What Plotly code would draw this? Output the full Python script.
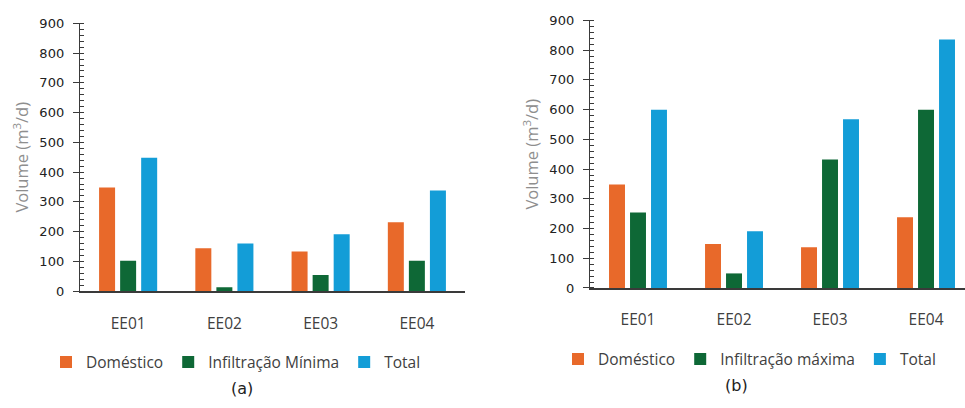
import plotly.graph_objects as go

categories = ["EE01", "EE02", "EE03", "EE04"]
dom_a = [348, 144, 133, 232]
inf_min = [102, 13, 54, 102]
tot_a = [448, 160, 191, 338]
dom_b = [348, 148, 137, 238]
inf_max = [254, 49, 432, 600]
tot_b = [600, 191, 568, 836]
y_ticks = [0, 100, 200, 300, 400, 500, 600, 700, 800, 900]

C_DOM = "#E8692A"
C_INF = "#0E6836"
C_TOT = "#139DD7"

W, H = 965, 408
def fx(px):
    return px / W
def fy(py):
    return 1 - py / H

fig = go.Figure()
for name, vals, col in [("Doméstico", dom_a, C_DOM), ("Infiltração Mínima", inf_min, C_INF), ("Total", tot_a, C_TOT)]:
    fig.add_trace(go.Bar(x=categories, y=vals, name=name, marker=dict(color=col, line=dict(width=0)),
                         xaxis="x", yaxis="y", legend="legend"))
for name, vals, col in [("Doméstico", dom_b, C_DOM), ("Infiltração máxima", inf_max, C_INF), ("Total", tot_b, C_TOT)]:
    fig.add_trace(go.Bar(x=categories, y=vals, name=name, marker=dict(color=col, line=dict(width=0)),
                         xaxis="x2", yaxis="y2", legend="legend2"))

axis_col = "#3A3A3A"
cat_font = dict(family="Open Sans", size=15.5, color="#404040")
tick_font = dict(family="DejaVu Sans", size=13, color="#222222")
title_font = dict(family="Open Sans", size=16.5, color="#8E8E8E")
leg_font = dict(family="Open Sans", size=15.5, color="#404040")

def xax(domain, rng, anchor):
    return dict(domain=domain, range=rng, anchor=anchor, showline=True, linecolor=axis_col, linewidth=1.5,
                ticks="", showgrid=False, zeroline=False, tickfont=cat_font, ticklabelstandoff=17,
                fixedrange=True)

def yax(domain, anchor):
    return dict(domain=domain, range=[0, 900], anchor=anchor, showline=True, linecolor=axis_col, linewidth=1.4,
                tickvals=y_ticks, ticktext=[str(v) for v in y_ticks],
                ticks="outside", ticklen=6, tickwidth=1.4, tickcolor=axis_col,
                minor=dict(dtick=20, ticks="inside", ticklen=4, tickwidth=1.1, tickcolor=axis_col),
                showgrid=False, zeroline=False, tickfont=tick_font, ticklabelstandoff=6,
                title=dict(text="Volume (m<sup>3</sup>/d)", font=title_font, standoff=6))

def yover(domain_anchor, overl):
    return dict(range=[0, 900], overlaying=overl, anchor=domain_anchor, tickvals=y_ticks,
                ticks="inside", ticklen=6, tickwidth=1.4, tickcolor=axis_col, showticklabels=False,
                showline=False, showgrid=False, zeroline=False)

fig.update_layout(
    width=W, height=H, margin=dict(l=0, r=0, t=0, b=0),
    paper_bgcolor="white", plot_bgcolor="white",
    barmode="group", bargap=0.344, bargroupgap=0.24,
    xaxis=xax([fx(80), fx(465)], [-0.5, 3.5], "y"),
    yaxis=yax([fy(295), fy(17)], "x"),
    xaxis2=xax([fx(590), 1.0], [-0.5, 3.406], "y2"),
    yaxis2=yax([fy(291.7), fy(14)], "x2"),
    yaxis3=yover("x", "y"),
    yaxis4=yover("x2", "y2"),
    legend=dict(orientation="h", x=fx(46), y=fy(369), xanchor="left", yanchor="middle",
                font=leg_font, itemwidth=30, bgcolor="rgba(0,0,0,0)"),
    legend2=dict(orientation="h", x=fx(558), y=fy(366), xanchor="left", yanchor="middle",
                 font=leg_font, itemwidth=30, bgcolor="rgba(0,0,0,0)"),
    annotations=[
        dict(text="(a)", x=fx(242), y=fy(396), xref="paper", yref="paper", showarrow=False,
             font=dict(family="DejaVu Sans", size=16, color="#222222"), xanchor="center", yanchor="middle"),
        dict(text="(b)", x=fx(736), y=fy(393), xref="paper", yref="paper", showarrow=False,
             font=dict(family="DejaVu Sans", size=16, color="#222222"), xanchor="center", yanchor="middle"),
    ],
)

fig.write_html("out.html")
